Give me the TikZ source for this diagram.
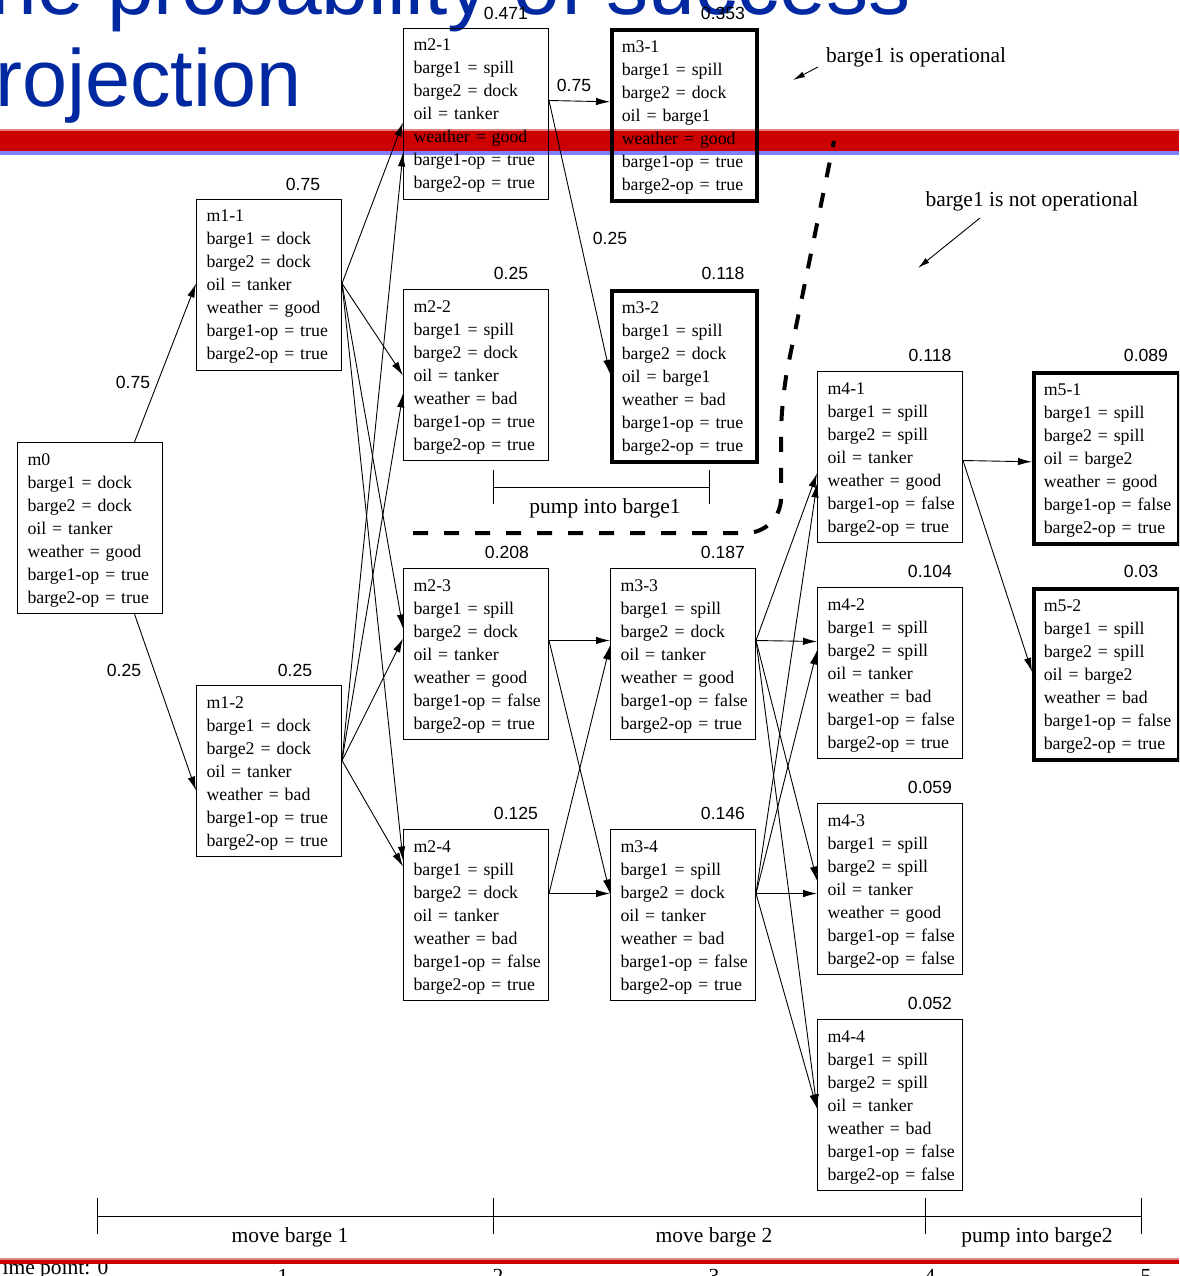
\documentclass[tikz,border=0pt]{standalone}
\usepackage{fontspec}
\setmainfont{Liberation Serif}
\newfontfamily\arialf{Liberation Sans}
\usetikzlibrary{arrows.meta,calc}
\definecolor{titleblue}{RGB}{0,40,160}
\definecolor{barred}{RGB}{204,0,0}
\definecolor{barblue}{RGB}{128,128,255}
\definecolor{barpink}{RGB}{225,130,130}
\newcommand\boxfont{\fontsize{17.8}{23}\selectfont}
\newcommand\firstpad{\rule{0pt}{22.5pt}}
\newcommand\lastpad{\rule[-10.5pt]{0pt}{1pt}}
\newcommand\st[7]{\firstpad\mbox{#1}\\\mbox{#2}\\\mbox{#3}\\\mbox{#4}\\\mbox{#5}\\\mbox{#6}\\\mbox{#7}\lastpad}
\tikzset{
  statebox/.style={draw, line width=1pt, minimum width=145pt, minimum height=171pt,
    inner xsep=10pt, inner ysep=0pt, text width=125pt, align=left, font=\boxfont, anchor=north west},
  finalbox/.style={statebox, line width=3.6pt},
  prob/.style={font=\arialf\fontsize{17.6}{20}\selectfont, inner sep=0pt},
  arr/.style={line width=0.9pt, -{Latex[length=14pt,width=7.5pt]}},
  smallarr/.style={line width=0.9pt, -{Latex[length=12pt,width=6pt]}},
  note/.style={font=\fontsize{21.5}{25}\selectfont, inner sep=0pt},
  dashline/.style={line width=4pt, dash pattern=on 15pt off 16pt, rounded corners=35pt},
  titletext/.style={font=\arialf\fontsize{81}{90}\selectfont, text=titleblue, inner sep=0pt, anchor=base west},
  rule/.style={line width=1pt}
}
\begin{document}
\begin{tikzpicture}[x=1pt,y=-1pt]
\useasboundingbox (0,0) rectangle (1179,1276);
\clip (0,0) rectangle (1179,1276);
\fill[white] (0,0) rectangle (1179,1276);
% title
\node[titletext, font=\arialf\fontsize{84}{90}\selectfont] (title1) at (-61,15) {The probability of success};
\node[titletext] (title2) at (-50,107) {projection};
% bar
\fill[barpink] (0,129) rectangle (1179,131);
\fill[barred] (0,131) rectangle (1179,151);
\fill[barblue] (0,151) rectangle (1179,155);

% states
\node[statebox] (m0) at (17,442) {\st{m0}{barge1 = dock}{barge2 = dock}{oil = tanker}{weather = good}{barge1-op = true}{barge2-op = true}};
\node[statebox] (m11) at (196,199) {\st{m1-1}{barge1 = dock}{barge2 = dock}{oil = tanker}{weather = good}{barge1-op = true}{barge2-op = true}};
\node[statebox] (m12) at (196,685) {\st{m1-2}{barge1 = dock}{barge2 = dock}{oil = tanker}{weather = bad}{barge1-op = true}{barge2-op = true}};
\node[statebox] (m21) at (403,28) {\st{m2-1}{barge1 = spill}{barge2 = dock}{oil = tanker}{weather = good}{barge1-op = true}{barge2-op = true}};
\node[statebox] (m22) at (403,289) {\st{m2-2}{barge1 = spill}{barge2 = dock}{oil = tanker}{weather = bad}{barge1-op = true}{barge2-op = true}};
\node[statebox] (m23) at (403,568) {\st{m2-3}{barge1 = spill}{barge2 = dock}{oil = tanker}{weather = good}{barge1-op = false}{barge2-op = true}};
\node[statebox] (m24) at (403,829) {\st{m2-4}{barge1 = spill}{barge2 = dock}{oil = tanker}{weather = bad}{barge1-op = false}{barge2-op = true}};
\node[finalbox] (m31) at (610,28) {\st{m3-1}{barge1 = spill}{barge2 = dock}{oil = barge1}{weather = good}{barge1-op = true}{barge2-op = true}};
\node[finalbox] (m32) at (610,289) {\st{m3-2}{barge1 = spill}{barge2 = dock}{oil = barge1}{weather = bad}{barge1-op = true}{barge2-op = true}};
\node[statebox] (m33) at (610,568) {\st{m3-3}{barge1 = spill}{barge2 = dock}{oil = tanker}{weather = good}{barge1-op = false}{barge2-op = true}};
\node[statebox] (m34) at (610,829) {\st{m3-4}{barge1 = spill}{barge2 = dock}{oil = tanker}{weather = bad}{barge1-op = false}{barge2-op = true}};
\node[statebox] (m41) at (817,371) {\st{m4-1}{barge1 = spill}{barge2 = spill}{oil = tanker}{weather = good}{barge1-op = false}{barge2-op = true}};
\node[statebox] (m42) at (817,587) {\st{m4-2}{barge1 = spill}{barge2 = spill}{oil = tanker}{weather = bad}{barge1-op = false}{barge2-op = true}};
\node[statebox] (m43) at (817,803) {\st{m4-3}{barge1 = spill}{barge2 = spill}{oil = tanker}{weather = good}{barge1-op = false}{barge2-op = false}};
\node[statebox] (m44) at (817,1019) {\st{m4-4}{barge1 = spill}{barge2 = spill}{oil = tanker}{weather = bad}{barge1-op = false}{barge2-op = false}};
\node[finalbox] (m51) at (1032,371) {\st{m5-1}{barge1 = spill}{barge2 = spill}{oil = barge2}{weather = good}{barge1-op = false}{barge2-op = true}};
\node[finalbox] (m52) at (1032,587) {\st{m5-2}{barge1 = spill}{barge2 = spill}{oil = barge2}{weather = bad}{barge1-op = false}{barge2-op = true}};

% probabilities
\node[prob] (p11) at (303,184) {0.75};
\node[prob] (p12) at (295,670) {0.25};
\node[prob] (p21) at (506,13) {0.471};
\node[prob] (p22) at (511,273) {0.25};
\node[prob] (p23) at (507,552) {0.208};
\node[prob] (p24) at (516,813) {0.125};
\node[prob] (p31) at (723,13) {0.353};
\node[prob] (p32) at (723,273) {0.118};
\node[prob] (p33) at (723,552) {0.187};
\node[prob] (p34) at (723,813) {0.146};
\node[prob] (p41) at (930,355) {0.118};
\node[prob] (p42) at (930,571) {0.104};
\node[prob] (p43) at (930,787) {0.059};
\node[prob] (p44) at (930,1003) {0.052};
\node[prob] (p51) at (1146,355) {0.089};
\node[prob] (p52) at (1141,571) {0.03};

% edge labels
\node[prob] (e1) at (133,382) {0.75};
\node[prob] (e2) at (124,670) {0.25};
\node[prob] (e3) at (574,85) {0.75};
\node[prob] (e4) at (610,238) {0.25};

% edges m0 -> m1
\draw[arr] ($(m0.north)+(44.5,0)$) -- ($(m11.west)+(0,-1.5)$);
\draw[arr] ($(m0.south)+(44.5,0)$) -- ($(m12.west)+(0,19.5)$);
% m1 -> m2
\draw[arr] ($(m11.east)+(0,-1.5)$) -- ($(m21.west)+(0,8.5)$);
\draw[arr] ($(m11.east)+(0,-1.5)$) -- ($(m22.west)+(0,0.5)$);
\draw[arr] ($(m11.east)+(0,-1.5)$) -- ($(m23.west)+(0,-25.5)$);
\draw[arr] ($(m11.east)+(0,-1.5)$) -- ($(m24.west)+(0,-54.5)$);
\draw[arr] ($(m12.east)+(0,-10.5)$) -- ($(m21.west)+(0,38.5)$);
\draw[arr] ($(m12.east)+(0,-10.5)$) -- ($(m22.west)+(0,18.5)$);
\draw[arr] ($(m12.east)+(0,-10.5)$) -- ($(m23.west)+(0,-15.5)$);
\draw[arr] ($(m12.east)+(0,-10.5)$) -- ($(m24.west)+(0,-48.5)$);
% m2 -> m3
\draw[arr] ($(m21.east)+(0,-13.5)$) -- ($(m31.west)+(0,-13.5)$);
\draw[arr] ($(m21.east)+(0,-13.5)$) -- ($(m32.west)+(0,-2.5)$);
\draw[arr] ($(m23.east)+(0,-13.5)$) -- ($(m33.west)+(0,-13.5)$);
\draw[arr] ($(m23.east)+(0,-13.5)$) -- ($(m34.west)+(0,-21.5)$);
\draw[arr] ($(m24.east)+(0,-21.5)$) -- ($(m33.west)+(0,-8.5)$);
\draw[arr] ($(m24.east)+(0,-21.5)$) -- ($(m34.west)+(0,-21.5)$);
% m3 -> m4
\draw[arr] ($(m33.east)+(0,-13.5)$) -- ($(m41.west)+(0,16.5)$);
\draw[arr] ($(m33.east)+(0,-13.5)$) -- ($(m42.west)+(0,-31.5)$);
\draw[arr] ($(m33.east)+(0,-13.5)$) -- ($(m43.west)+(0,-8.5)$);
\draw[arr] ($(m33.east)+(0,-13.5)$) -- ($(m44.west)+(0,3.5)$);
\draw[arr] ($(m34.east)+(0,-21.5)$) -- ($(m41.west)+(0,26.5)$);
\draw[arr] ($(m34.east)+(0,-21.5)$) -- ($(m42.west)+(0,-22.5)$);
\draw[arr] ($(m34.east)+(0,-21.5)$) -- ($(m43.west)+(0,4.5)$);
\draw[arr] ($(m34.east)+(0,-21.5)$) -- ($(m44.west)+(0,3.5)$);
% m4 -> m5
\draw[arr] ($(m41.east)+(0,3.5)$) -- ($(m51.west)+(0,3.5)$);
\draw[arr] ($(m41.east)+(0,3.5)$) -- ($(m52.west)+(0,-2.5)$);

% annotations
\node[note, anchor=west] (op) at (826,57) {barge1 is operational};
\coordinate (opTip) at (793,80);
\draw[smallarr] ($(op.west)+(-8,10)$) -- (opTip);
\node[note] (nop) at (1032,201) {barge1 is not operational};
\coordinate (nopTip) at (918,268);
\draw[smallarr] ($(nop.center)+(-52,17)$) -- (nopTip);

% dashed separation
\draw[dashline] (413,533) -- (781,533) -- (781,400) -- (834,141);

% pump into barge1 bracket
\draw[rule] (493,470) -- (493,504);
\draw[rule] (709,470) -- (709,504);
\draw[rule] (493,487) -- (709,487);
\node[note] (pump1) at (605,508) {pump into barge1};

% bottom timeline
\draw[rule] (97,1216) -- (1141,1216);
\foreach \xx in {97,493,925,1141} \draw[rule] (\xx,1198) -- (\xx,1234);
\node[note] (mv1) at (290,1237) {move barge 1};
\node[note] (mv2) at (714,1237) {move barge 2};
\node[note] (pump2) at (1037,1237) {pump into barge2};

% time points
\node[note, anchor=base west] (tp0) at (-10,1274) {Time point: 0};
\node[note, anchor=base] (tp1) at (283,1283) {1};
\node[note, anchor=base] (tp2) at (498,1283) {2};
\node[note, anchor=base] (tp3) at (714,1283) {3};
\node[note, anchor=base] (tp4) at (930,1283) {4};
\node[note, anchor=base] (tp5) at (1146,1283) {5};
\fill[barpink] (0,1258) rectangle (1179,1260);
\fill[barred] (0,1260) rectangle (1179,1264);
\end{tikzpicture}
\end{document}
